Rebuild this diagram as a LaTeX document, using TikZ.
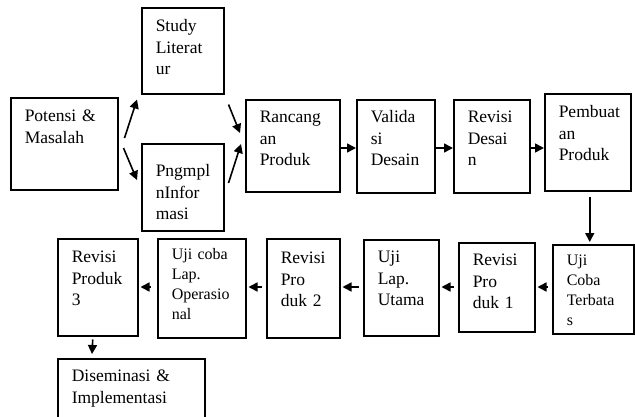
\documentclass[tikz,border=0pt]{standalone}
\usepackage{fontspec}
\setmainfont{Liberation Serif}
\usetikzlibrary{arrows.meta,calc}

\begin{document}
\begin{tikzpicture}[x=1pt, y=-1pt,
    kotak/.style n args={3}{draw, line width=1.5pt, anchor=north west, align=left,
        inner xsep=14pt, inner ysep=8pt, text width=#1-28pt,
        text height=#3-8pt, text depth=#2-#3-8pt,
        font=\fontsize{17.5}{21.5}\selectfont},
    kecil/.style={font=\fontsize{16}{20}\selectfont},
    panah/.style={line width=1.6pt, -{Triangle[length=9pt,width=9pt]}}]
\useasboundingbox (0,0) rectangle (635,416);

% Baris atas
\node[kotak={107}{92}{24}] (potensi) at (10,97) {Potensi \&\\Masalah};
\node[kotak={82}{86}{24}] (study) at (141,7) {Study\\Literat\\ur};
\node[kotak={82}{87}{33}] (info) at (141,143) {Pngmpl\\nInfor\\masi};
\node[kotak={94}{92}{23}] (rancang) at (245,99) {Rancang\\an\\Produk};
\node[kotak={78}{93}{23}] (validasi) at (356,99) {Valida\\si\\Desain};
\node[kotak={76}{93}{23}] (revdesain) at (453,99) {Revisi\\Desai\\n};
\node[kotak={86}{97}{24}] (pembuatan) at (544,93) {Pembuat\\an\\Produk};

% Baris bawah
\node[kotak={81}{89}{21}, kecil] (terbatas) at (552,244) {Uji\\Coba\\Terbata\\s};
\node[kotak={76}{89}{23}] (revprod1) at (458,242) {Revisi\\Pro\\duk 1};
\node[kotak={75}{96}{23}] (ujiutama) at (363,239) {Uji\\Lap.\\Utama};
\node[kotak={73}{99}{25}] (revprod2) at (266,238) {Revisi\\Pro\\duk 2};
\node[kotak={88}{99}{21}, kecil] (ujiops) at (157,238) {Uji coba\\Lap.\\Operasio\\nal};
\node[kotak={80}{97}{24}] (revprod3) at (57,238) {Revisi\\Produk\\3};
\node[kotak={147}{80}{23}] (diseminasi) at (57,358) {Diseminasi \&\\Implementasi};

% Panah bercabang
\draw[panah] ($(potensi.north east)+(6,41)$) -- ($(study.south west)+(-4,5)$);
\draw[panah] ($(potensi.north east)+(5,51)$) -- ($(info.north west)+(-4,37)$);
\draw[panah] ($(study.south east)+(4,10)$) -- ($(rancang.north west)+(-5,34)$);
\draw[panah] ($(info.north east)+(4,40)$) -- ($(rancang.north west)+(-4,45)$);

% Panah baris atas
\draw[panah] (rancang.east |- 0,148) -- (validasi.west |- 0,148);
\draw[panah] (validasi.east |- 0,148) -- (revdesain.west |- 0,148);
\draw[panah] (revdesain.east |- 0,148) -- (pembuatan.west |- 0,148);

% Panah turun
\draw[panah] ($(pembuatan.south)+(2,5)$) -- ($(terbatas.north)+(-3.5,-2)$);

% Panah baris bawah
\draw[panah, shorten <=4pt, shorten >=2pt] (terbatas.west |- 0,287) -- (revprod1.east |- 0,287);
\draw[panah, shorten <=4pt, shorten >=2pt] (revprod1.west |- 0,287) -- (ujiutama.east |- 0,287);
\draw[panah, shorten <=4pt, shorten >=2pt] (ujiutama.west |- 0,287) -- (revprod2.east |- 0,287);
\draw[panah, shorten <=4pt, shorten >=2pt] (revprod2.west |- 0,287) -- (ujiops.east |- 0,287);
\draw[panah, shorten <=6pt, shorten >=2pt] (ujiops.west |- 0,287) -- (revprod3.east |- 0,287);

% Panah ke diseminasi
\draw[panah] ($(revprod3.south)+(-5,3)$) -- ($(diseminasi.north west)+(35,-4)$);

\end{tikzpicture}
\end{document}
